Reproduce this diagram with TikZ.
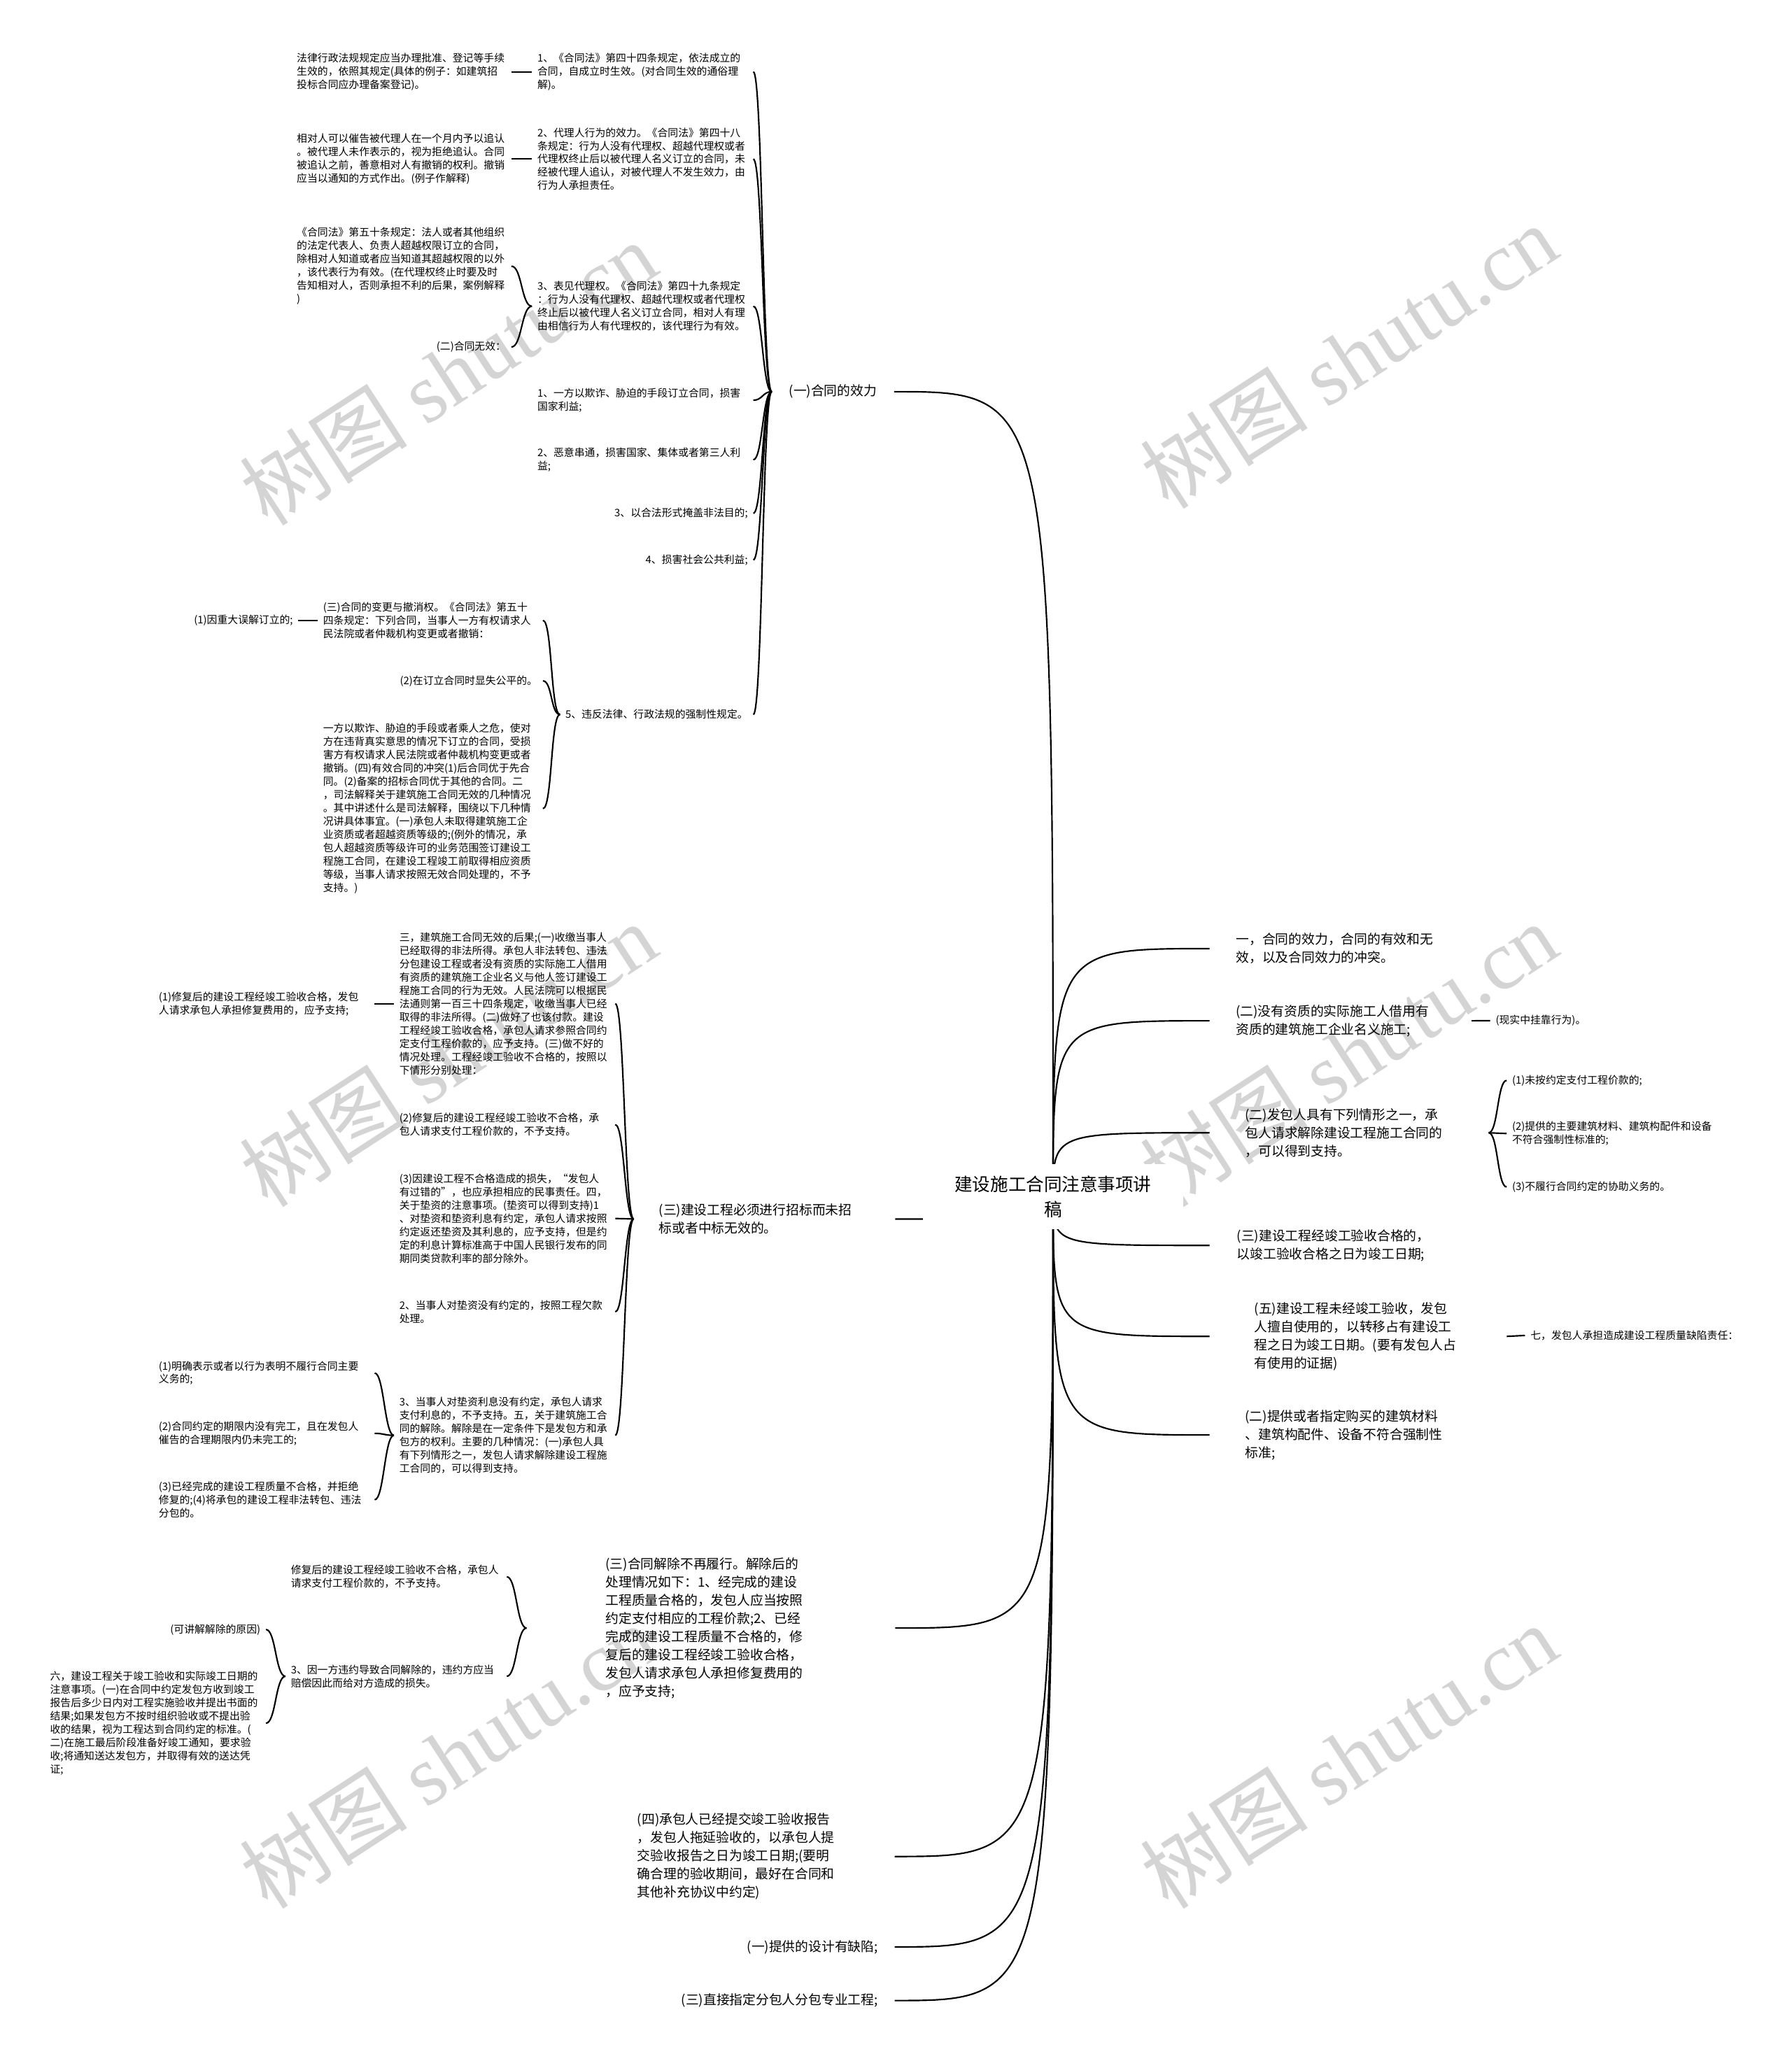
\documentclass[tikz,border=0pt]{standalone}
\usepackage{fontspec}
\setmainfont{Noto Sans CJK SC}
\newfontfamily\wmserif{Liberation Serif}
\usetikzlibrary{calc}
\pgfdeclarelayer{wm}\pgfdeclarelayer{bg}\pgfsetlayers{wm,bg,main}
\newcommand\smallf{\fontsize{7.9pt}{10.1pt}\selectfont}
\newcommand\bigf{\fontsize{10pt}{13.8pt}\selectfont}
\newcommand\rootf{\fontsize{13.6pt}{19.2pt}\selectfont}
\hfuzz=300pt \hbadness=10000
\begin{document}
\begin{tikzpicture}[x=1pt,y=-1pt,
  sm/.style={font=\smallf, inner xsep=4pt, inner ysep=1pt, align=left},
  sw/.style={sm, text width=160pt},
  bgone/.style={font=\bigf, inner ysep=1pt, align=left},
  con/.style={line width=1.15pt, black},
  wmark/.style={rotate=33, text=black!17, inner sep=0pt, font=\fontsize{64pt}{64pt}\selectfont}]
\useasboundingbox (0,0) rectangle (1363,1568);
\begin{pgfonlayer}{wm}
\fill[white] (0,0) rectangle (1363,1568);
\foreach \i/\x/\y in {1/341/284,2/1026/271,3/341/802,4/1026/802,5/341/1336,6/1026/1336}
  \node[wmark] (wm\i) at (\x,\y) {树图 {\wmserif shutu.cn}};
\end{pgfonlayer}

% root
\node[font=\rootf, fill=white, inner xsep=24pt, inner ysep=8.8pt, text width=150pt, align=center] (root) at (801,910.4) {建设施工合同注意事项讲\\稿};

% ---------- left branch 1
\node[bgone, inner xsep=13pt, anchor=west] (B1) at (587,298) {(一)合同的效力};
\node[sw, anchor=east] (c1) at (573,54.6) {1、《合同法》第四十四条规定，依法成立的\\合同，自成立时生效。(对合同生效的通俗理\\解)。};
\node[sw, anchor=east] (c2) at (573,121) {2、代理人行为的效力。《合同法》第四十八\\条规定：行为人没有代理权、超越代理权或者\\代理权终止后以被代理人名义订立的合同，未\\经被代理人追认，对被代理人不发生效力，由\\行为人承担责任。};
\node[sw, anchor=east] (c3) at (573,233) {3、表见代理权。《合同法》第四十九条规定\\：行为人没有代理权、超越代理权或者代理权\\终止后以被代理人名义订立合同，相对人有理\\由相信行为人有代理权的，该代理行为有效。};
\node[sw, anchor=east] (c4) at (573,304.5) {1、一方以欺诈、胁迫的手段订立合同，损害\\国家利益;};
\node[sw, anchor=east] (c5) at (573,349.8) {2、恶意串通，损害国家、集体或者第三人利\\益;};
\node[sm, anchor=east] (c6) at (573,390.5) {3、以合法形式掩盖非法目的;};
\node[sm, anchor=east] (c7) at (573,426) {4、损害社会公共利益;};
\node[sm, anchor=east] (c8) at (573,543.6) {5、违反法律、行政法规的强制性规定。};

\node[sw, text width=159pt, anchor=east] (k1) at (389,54.6) {法律行政法规规定应当办理批准、登记等手续\\生效的，依照其规定(具体的例子：如建筑招\\投标合同应办理备案登记)。};
\node[sw, text width=159pt, anchor=east] (k2) at (389,121) {相对人可以催告被代理人在一个月内予以追认\\。被代理人未作表示的，视为拒绝追认。合同\\被追认之前，善意相对人有撤销的权利。撤销\\应当以通知的方式作出。(例子作解释)};
\node[sw, text width=159pt, anchor=east] (k3a) at (389,202.5) {《合同法》第五十条规定：法人或者其他组织\\的法定代表人、负责人超越权限订立的合同，\\除相对人知道或者应当知道其超越权限的以外\\，该代表行为有效。(在代理权终止时要及时\\告知相对人，否则承担不利的后果，案例解释\\)};
\node[sm, anchor=east] (k3b) at (389,264) {(二)合同无效：};

\node[sw, text width=163pt, anchor=east] (d1) at (413,472) {(三)合同的变更与撤消权。《合同法》第五十\\四条规定：下列合同，当事人一方有权请求人\\民法院或者仲裁机构变更或者撤销：};
\node[sm, anchor=east] (d1c) at (227,472) {(1)因重大误解订立的;};
\node[sm, anchor=east] (d2) at (413,518) {(2)在订立合同时显失公平的。};
\node[sw, text width=163pt, anchor=east] (d3) at (413,615.2) {一方以欺诈、胁迫的手段或者乘人之危，使对\\方在违背真实意思的情况下订立的合同，受损\\害方有权请求人民法院或者仲裁机构变更或者\\撤销。(四)有效合同的冲突(1)后合同优于先合\\同。(2)备案的招标合同优于其他的合同。二\\，司法解释关于建筑施工合同无效的几种情况\\。其中讲述什么是司法解释，围绕以下几种情\\况讲具体事宜。(一)承包人未取得建筑施工企\\业资质或者超越资质等级的;(例外的情况，承\\包人超越资质等级许可的业务范围签订建设工\\程施工合同，在建设工程竣工前取得相应资质\\等级，当事人请求按照无效合同处理的，不予\\支持。)};

% ---------- left branch 2
\node[bgone, inner xsep=19pt, text width=160.6pt, anchor=west] (B2) at (482,927.4) {(三)建设工程必须进行招标而未招\\标或者中标无效的。};
\node[sw, anchor=east] (e1) at (468,763.6) {三，建筑施工合同无效的后果;(一)收缴当事人\\已经取得的非法所得。承包人非法转包、违法\\分包建设工程或者没有资质的实际施工人借用\\有资质的建筑施工企业名义与他人签订建设工\\程施工合同的行为无效。人民法院可以根据民\\法通则第一百三十四条规定，收缴当事人已经\\取得的非法所得。(二)做好了也该付款。建设\\工程经竣工验收合格，承包人请求参照合同约\\定支付工程价款的，应予支持。(三)做不好的\\情况处理。工程经竣工验收不合格的，按照以\\下情形分别处理：};
\node[sw, anchor=east] (e2) at (468,855.6) {(2)修复后的建设工程经竣工验收不合格，承\\包人请求支付工程价款的，不予支持。};
\node[sw, anchor=east] (e3) at (468,927) {(3)因建设工程不合格造成的损失，“发包人\\有过错的”，也应承担相应的民事责任。四，\\关于垫资的注意事项。(垫资可以得到支持)1\\、对垫资和垫资利息有约定，承包人请求按照\\约定返还垫资及其利息的，应予支持，但是约\\定的利息计算标准高于中国人民银行发布的同\\期同类贷款利率的部分除外。};
\node[sw, anchor=east] (e4) at (468,998) {2、当事人对垫资没有约定的，按照工程欠款\\处理。};
\node[sw, anchor=east] (e5) at (468,1092) {3、当事人对垫资利息没有约定，承包人请求\\支付利息的，不予支持。五，关于建筑施工合\\同的解除。解除是在一定条件下是发包方和承\\包方的权利。主要的几种情况：(一)承包人具\\有下列情形之一，发包人请求解除建设工程施\\工合同的，可以得到支持。};
\node[sw, anchor=east] (m1) at (285,763.6) {(1)修复后的建设工程经竣工验收合格，发包\\人请求承包人承担修复费用的，应予支持;};
\node[sw, anchor=east] (f1) at (285,1044.6) {(1)明确表示或者以行为表明不履行合同主要\\义务的;};
\node[sw, anchor=east] (f2) at (285,1090.5) {(2)合同约定的期限内没有完工，且在发包人\\催告的合理期限内仍未完工的;};
\node[sw, anchor=east] (f3) at (285,1141) {(3)已经完成的建设工程质量不合格，并拒绝\\修复的;(4)将承包的建设工程非法转包、违法\\分包的。};

% ---------- left branch 3
\node[bgone, inner xsep=60pt, text width=160pt, anchor=west] (B3) at (400.5,1238.6) {(三)合同解除不再履行。解除后的\\处理情况如下：1、经完成的建设\\工程质量合格的，发包人应当按照\\约定支付相应的工程价款;2、已经\\完成的建设工程质量不合格的，修\\复后的建设工程经竣工验收合格，\\发包人请求承包人承担修复费用的\\，应予支持;};
\node[sw, anchor=east] (g1) at (385.5,1199.6) {修复后的建设工程经竣工验收不合格，承包人\\请求支付工程价款的，不予支持。};
\node[sw, anchor=east] (g2) at (385.5,1275.3) {3、因一方违约导致合同解除的，违约方应当\\赔偿因此而给对方造成的损失。};
\node[sm, anchor=east] (h1) at (202.3,1239.7) {(可讲解解除的原因)};
\node[sw, anchor=east] (h2) at (202.3,1311) {六，建设工程关于竣工验收和实际竣工日期的\\注意事项。(一)在合同中约定发包方收到竣工\\报告后多少日内对工程实施验收并提出书面的\\结果;如果发包方不按时组织验收或不提出验\\收的结果，视为工程达到合同约定的标准。(\\二)在施工最后阶段准备好竣工通知，要求验\\收;将通知送达发包方，并取得有效的送达凭\\证;};

% ---------- bottom left
\node[bgone, inner xsep=4pt, text width=191.6pt, anchor=east] (i1) at (680.6,1412.4) {(四)承包人已经提交竣工验收报告\\，发包人拖延验收的，以承包人提\\交验收报告之日为竣工日期;(要明\\确合理的验收期间，最好在合同和\\其他补充协议中约定)};
\node[bgone, inner xsep=12.6pt, anchor=east] (i2) at (680.6,1481.2) {(一)提供的设计有缺陷;};
\node[bgone, inner xsep=12.6pt, anchor=east] (i3) at (680.6,1522) {(三)直接指定分包人分包专业工程;};

% ---------- right side
\node[bgone, inner xsep=20pt, text width=160pt, anchor=west] (R1) at (920,721.7) {一，合同的效力，合同的有效和无\\效，以及合同效力的冲突。};
\node[bgone, inner xsep=20pt, text width=159pt, anchor=west] (R2) at (920,776.6) {(二)没有资质的实际施工人借用有\\资质的建筑施工企业名义施工;};
\node[sm, anchor=west] (n2) at (1133.5,776.5) {(现实中挂靠行为)。};
\node[bgone, inner xsep=27pt, text width=158pt, anchor=west] (R3) at (920,861.8) {(二)发包人具有下列情形之一，承\\包人请求解除建设工程施工合同的\\，可以得到支持。};
\node[sm, anchor=west] (o1) at (1146,822) {(1)未按约定支付工程价款的;};
\node[sm, anchor=west] (o2) at (1146,862.4) {(2)提供的主要建筑材料、建筑构配件和设备\\不符合强制性标准的;};
\node[sm, anchor=west] (o3) at (1146,903) {(3)不履行合同约定的协助义务的。};
\node[bgone, inner xsep=20.7pt, text width=160pt, anchor=west] (R4) at (920,947.5) {(三)建设工程经竣工验收合格的，\\以竣工验收合格之日为竣工日期;};
\node[bgone, inner xsep=34pt, text width=157.7pt, anchor=west] (R5) at (920,1016.7) {(五)建设工程未经竣工验收，发包\\人擅自使用的，以转移占有建设工\\程之日为竣工日期。(要有发包人占\\有使用的证据)};
\node[sm, anchor=west] (p5) at (1160,1016) {七，发包人承担造成建设工程质量缺陷责任：};
\node[bgone, inner xsep=27pt, text width=160pt, anchor=west] (R6) at (920,1091.7) {(二)提供或者指定购买的建筑材料\\、建筑构配件、设备不符合强制性\\标准;};

% ---------- connectors
\begin{pgfonlayer}{bg}
\foreach \nn in {R1,R2,R3,R4,R5,R6}
  \draw[con] (root.center) .. controls (root.center |- \nn.west) .. (\nn.west);
\foreach \nn in {B1,B2,B3,i1,i2,i3}
  \draw[con] (root.center) .. controls (root.center |- \nn.east) .. (\nn.east);
\foreach \nn in {c1,c2,c3,c4,c5,c6,c7,c8}
  \draw[con] (B1.west) .. controls +(-7,0) and +(7,0) .. (\nn.east);
\draw[con] (c1.west) -- (k1.east);
\draw[con] (c2.west) -- (k2.east);
\foreach \nn in {k3a,k3b}
  \draw[con] (c3.west) .. controls +(-8,0) and +(8,0) .. (\nn.east);
\foreach \nn in {d1,d2,d3}
  \draw[con] (c8.west) .. controls +(-7,0) and +(7,0) .. (\nn.east);
\draw[con] (d1.west) -- (d1c.east);
\foreach \nn in {e1,e2,e3,e4,e5}
  \draw[con] (B2.west) .. controls +(-7,0) and +(7,0) .. (\nn.east);
\draw[con] (e1.west) -- (m1.east);
\foreach \nn in {f1,f2,f3}
  \draw[con] (e5.west) .. controls +(-7,0) and +(7,0) .. (\nn.east);
\foreach \nn in {g1,g2}
  \draw[con] (B3.west) .. controls +(-7.5,0) and +(7.5,0) .. (\nn.east);
\foreach \nn in {h1,h2}
  \draw[con] (g2.west) .. controls +(-7.5,0) and +(7.5,0) .. (\nn.east);
\draw[con] (R2.east) -- (n2.west);
\foreach \nn in {o1,o2,o3}
  \draw[con] (R3.east) .. controls +(7,0) and +(-7,0) .. (\nn.west);
\draw[con] (R5.east) -- (p5.west);
\end{pgfonlayer}
\end{tikzpicture}
\end{document}
